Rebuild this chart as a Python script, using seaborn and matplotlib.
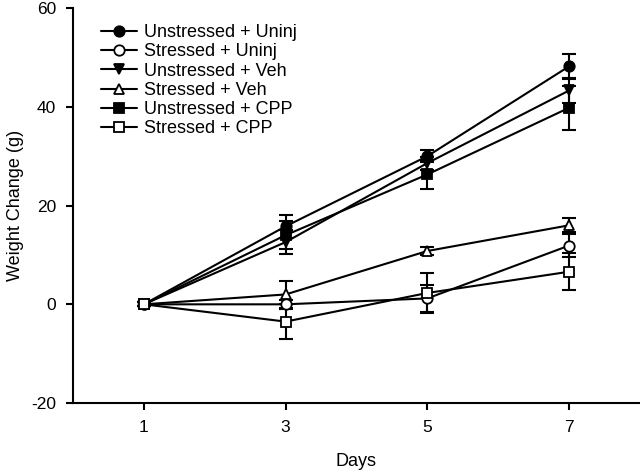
import numpy as np
import pandas as pd
import matplotlib
matplotlib.use("Agg")
import matplotlib.pyplot as plt
import seaborn as sns

days = [1, 3, 5, 7]
groups = ["Unstressed + Uninj", "Stressed + Uninj", "Unstressed + Veh",
          "Stressed + Veh", "Unstressed + CPP", "Stressed + CPP"]
means = {
    "Unstressed + Uninj": [0, 15.8, 30.0, 48.2],
    "Stressed + Uninj": [0, 0.0, 1.2, 11.9],
    "Unstressed + Veh": [0, 12.6, 28.6, 43.3],
    "Stressed + Veh": [0, 2.0, 10.8, 16.0],
    "Unstressed + CPP": [0, 14.0, 26.3, 39.8],
    "Stressed + CPP": [0, -3.5, 2.3, 6.6],
}
sems = {
    "Unstressed + Uninj": [0.4, 2.3, 1.2, 2.5],
    "Stressed + Uninj": [0.4, 0.9, 2.8, 2.3],
    "Unstressed + Veh": [0.4, 2.4, 1.3, 2.5],
    "Stressed + Veh": [0.4, 2.8, 0.8, 1.4],
    "Unstressed + CPP": [0.4, 2.8, 2.9, 4.4],
    "Stressed + CPP": [0.4, 3.6, 4.0, 3.7],
}
markers = {"Unstressed + Uninj": "o", "Stressed + Uninj": "o",
           "Unstressed + Veh": "v", "Stressed + Veh": "^",
           "Unstressed + CPP": "s", "Stressed + CPP": "s"}

rows = []
for g in groups:
    for d, m, s in zip(days, means[g], sems[g]):
        rows.append({"group": g, "day": d, "mean": m, "sem": s})
df = pd.DataFrame(rows)

sns.set_style("ticks")
plt.rcParams["font.family"] = ["Liberation Sans", "DejaVu Sans"]
plt.rcParams["axes.unicode_minus"] = False
plt.rcParams["text.color"] = "black"
plt.rcParams["axes.labelcolor"] = "black"
plt.rcParams["xtick.color"] = "black"
plt.rcParams["ytick.color"] = "black"
plt.rcParams["axes.edgecolor"] = "black"

fig = plt.figure(figsize=(6.4, 4.72), dpi=100)
ax = fig.add_axes([0.114, 0.146, 0.886, 0.837])

for g in groups:
    sub = df[df["group"] == g]
    face = "white" if g.startswith("Stressed") else "black"
    ax.errorbar(sub["day"], sub["mean"], yerr=sub["sem"], fmt="none",
                ecolor="black", elinewidth=1.5, capsize=5, capthick=1.5, zorder=2)
    sns.lineplot(data=sub, x="day", y="mean", ax=ax, color="black", lw=1.5,
                 marker=markers[g], markersize=7.5, markerfacecolor=face,
                 markeredgecolor="black", markeredgewidth=1.3, label=g, zorder=3)

ax.set_xlim(0, 8)
ax.set_ylim(-20, 60)
ax.set_xticks(days)
ax.set_yticks([-20, 0, 20, 40, 60])
ax.set_xlabel("Days", fontsize=13, labelpad=13)
ax.set_ylabel("Weight Change (g)", fontsize=13, labelpad=5)
ax.tick_params(labelsize=12.5, width=1.5, length=5, direction="out", pad=7)
for sp in ["left", "bottom"]:
    ax.spines[sp].set_linewidth(1.5)
sns.despine(ax=ax)

ax.legend(loc="upper left", bbox_to_anchor=(0.036, 0.977), frameon=False,
          fontsize=13, handlelength=2.0, handletextpad=0.4, labelspacing=0.12,
          borderaxespad=0)

fig.savefig("out.png", dpi=100)
